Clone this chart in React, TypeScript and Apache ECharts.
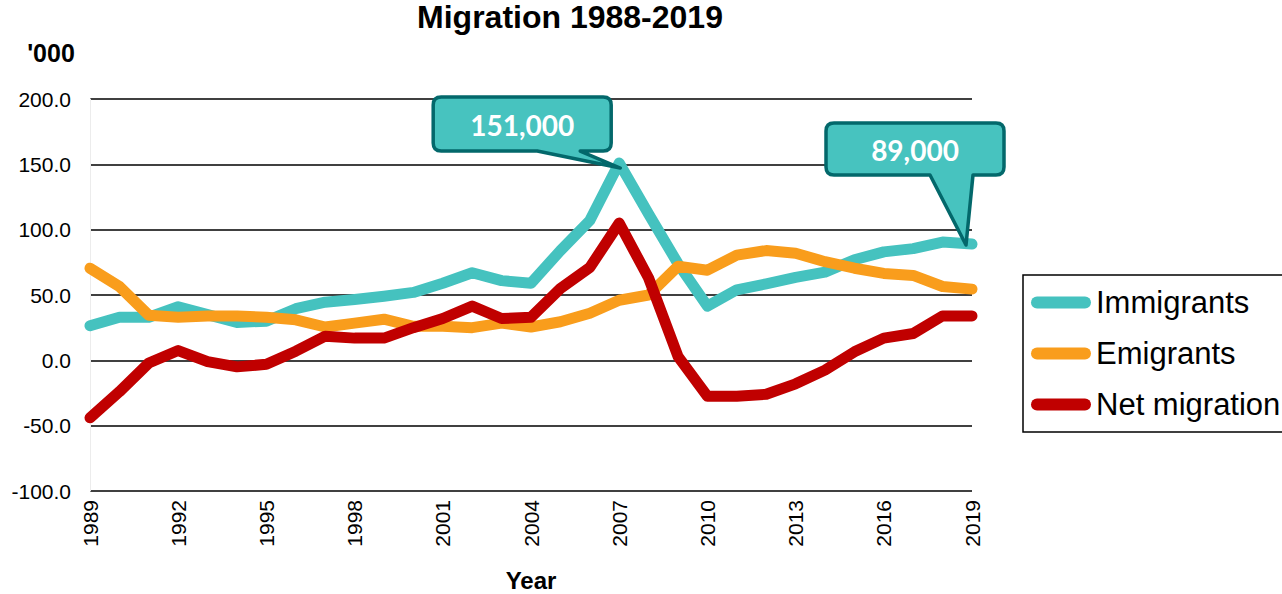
import React, { useEffect, useRef } from "react";
import * as echarts from "echarts";

const years = [
  "1989", "1990", "1991", "1992", "1993", "1994", "1995", "1996", "1997", "1998",
  "1999", "2000", "2001", "2002", "2003", "2004", "2005", "2006", "2007", "2008",
  "2009", "2010", "2011", "2012", "2013", "2014", "2015", "2016", "2017", "2018", "2019",
];

const immigrants = [
  26.5, 33, 33, 41, 35, 29, 30, 39.5, 44.5, 46.5,
  49, 52, 59, 67, 61, 59, 84, 107, 151, 112,
  74, 41.5, 54, 58.5, 63.5, 67.5, 77, 83, 85.5, 90.5, 89,
];

const emigrants = [
  70.5, 56.5, 34.5, 33, 34, 34, 33, 31, 25.5, 28.5,
  31.5, 26, 26, 25, 28.5, 25.5, 29.5, 36, 46, 50,
  72, 69, 80.5, 84, 82, 75.5, 70.5, 66.5, 65, 56.5, 54.5,
];

const netMigration = [
  -44, -24, -2, 7.5, -1, -5, -3, 7, 18.5, 17,
  17, 25, 32, 41.5, 32, 33, 55, 71, 105, 63,
  3, -27.5, -27.5, -26, -18, -7.5, 6.5, 17, 20.5, 34, 34,
];

const seriesNames = ["Immigrants", "Emigrants", "Net migration"];
const seriesColors = ["#45C2BF", "#F99D1C", "#C00000"];

const yTicks = { min: -100, max: 200, interval: 50 };

const callouts = [
  { year: "2007", label: "151,000" },
  { year: "2019", label: "89,000" },
];

// geometry of callout bubbles relative to the anchored data point (pixels)
const calloutGeom = [
  { box: [-186, -66, -8, -12], base: [-82, -39], tip: [1, 5] },
  { box: [-146, -121, 32, -69], base: [-42, 1], tip: [-6, 1] },
];

const FONT = '"Liberation Sans", Arial, Helvetica, sans-serif';

function calloutPath(x0: number, y0: number, x1: number, y1: number, bl: number, br: number, tx: number, ty: number, r: number) {
  const f = (n: number) => n.toFixed(2);
  return [
    `M${f(x0 + r)},${f(y0)}`,
    `L${f(x1 - r)},${f(y0)}`,
    `Q${f(x1)},${f(y0)} ${f(x1)},${f(y0 + r)}`,
    `L${f(x1)},${f(y1 - r)}`,
    `Q${f(x1)},${f(y1)} ${f(x1 - r)},${f(y1)}`,
    `L${f(br)},${f(y1)}`,
    `L${f(tx)},${f(ty)}`,
    `L${f(bl)},${f(y1)}`,
    `L${f(x0 + r)},${f(y1)}`,
    `Q${f(x0)},${f(y1)} ${f(x0)},${f(y1 - r)}`,
    `L${f(x0)},${f(y0 + r)}`,
    `Q${f(x0)},${f(y0)} ${f(x0 + r)},${f(y0)}`,
    "Z",
  ].join(" ");
}

export default function App() {
  const ref = useRef<HTMLDivElement>(null);

  useEffect(() => {
    if (!ref.current) return;
    const chart = echarts.init(ref.current, null, { renderer: "svg" });
    const dataSets = [immigrants, emigrants, netMigration];

    chart.setOption({
      animation: false,
      backgroundColor: "#ffffff",
      title: {
        text: "Migration 1988-2019",
        left: 570,
        top: 1,
        textAlign: "center",
        padding: 0,
        textStyle: { fontFamily: FONT, fontSize: 32, fontWeight: "bold", color: "#000" },
      },
      legend: {
        orient: "vertical",
        left: 1023,
        top: 275,
        padding: [12, 8, 12, 8],
        borderColor: "#000",
        borderWidth: 1.5,
        itemWidth: 60,
        itemHeight: 12,
        itemGap: 20,
        icon: "path://M6,0H54A6,6,0,0,1,54,12H6A6,6,0,0,1,6,0Z",
        textStyle: { fontFamily: FONT, fontSize: 31, color: "#000", lineHeight: 30 },
        data: seriesNames,
      },
      grid: {
        left: 90,
        right: 310,
        top: 99,
        bottom: 103,
        containLabel: false,
        outerBoundsMode: "none",
      },
      xAxis: {
        type: "category",
        data: years,
        boundaryGap: false,
        name: "Year",
        nameLocation: "middle",
        nameGap: 77,
        nameTextStyle: { fontFamily: FONT, fontSize: 24, fontWeight: "bold", color: "#000", lineHeight: 24 },
        axisLine: { show: false, onZero: false },
        axisTick: { show: false },
        splitLine: { show: false },
        axisLabel: {
          interval: 2,
          rotate: 90,
          margin: 9,
          fontFamily: FONT,
          fontSize: 21,
          color: "#000",
        },
      },
      yAxis: {
        type: "value",
        min: yTicks.min,
        max: yTicks.max,
        interval: yTicks.interval,
        axisLine: { show: true, lineStyle: { color: "#ececec", width: 1 } },
        axisTick: { show: false },
        splitLine: { show: true, lineStyle: { color: "#000", width: 1.6 } },
        axisLabel: {
          margin: 19,
          fontFamily: FONT,
          fontSize: 21,
          color: "#000",
          formatter: (v: number) => v.toFixed(1),
        },
      },
      series: seriesNames.map((name, i) => ({
        name,
        type: "line",
        data: dataSets[i],
        symbol: "none",
        showSymbol: false,
        color: seriesColors[i],
        itemStyle: { color: seriesColors[i] },
        lineStyle: { color: seriesColors[i], width: 11, cap: "round", join: "round" },
        z: 2 + i,
      })),
    });

    const graphics: any[] = [
      {
        type: "text",
        x: 51,
        y: 53,
        z: 100,
        style: {
          text: "'000",
          fill: "#000",
          fontFamily: FONT,
          fontSize: 25,
          fontWeight: "bold",
          align: "center",
          verticalAlign: "middle",
          textAlign: "center",
          textVerticalAlign: "middle",
        },
      },
    ];

    callouts.forEach((c, i) => {
      const idx = years.indexOf(c.year);
      const p = chart.convertToPixel({ xAxisIndex: 0, yAxisIndex: 0 }, [idx, immigrants[idx]]) as number[];
      const g = calloutGeom[i];
      const x0 = p[0] + g.box[0];
      const y0 = p[1] + g.box[1];
      const x1 = p[0] + g.box[2];
      const y1 = p[1] + g.box[3];
      const d = calloutPath(x0, y0, x1, y1, p[0] + g.base[0], p[0] + g.base[1], p[0] + g.tip[0], p[1] + g.tip[1], 8);
      const shapeName = "calloutShape" + i;
      echarts.graphic.registerShape(shapeName, echarts.graphic.extendPath(d, {}) as any);
      graphics.push({
        type: shapeName,
        x: 0,
        y: 0,
        z: 100,
        style: { fill: "#47C3BF", stroke: "#03686B", lineWidth: 3.5, lineJoin: "round" },
      });
      graphics.push({
        type: "text",
        x: (x0 + x1) / 2,
        y: (y0 + y1) / 2 + 1,
        z: 101,
        style: {
          text: c.label,
          fill: "#ffffff",
          fontFamily: "Lato, 'Open Sans', sans-serif",
          fontSize: 28,
          fontWeight: "bold",
          align: "center",
          verticalAlign: "middle",
          textAlign: "center",
          textVerticalAlign: "middle",
        },
      });
    });

    chart.setOption({ graphic: graphics });

    return () => chart.dispose();
  }, []);

  return (
    <div
      ref={ref}
      style={{ position: "absolute", left: 0, top: 0, width: 1282, height: 594, background: "#fff" }}
    />
  );
}
